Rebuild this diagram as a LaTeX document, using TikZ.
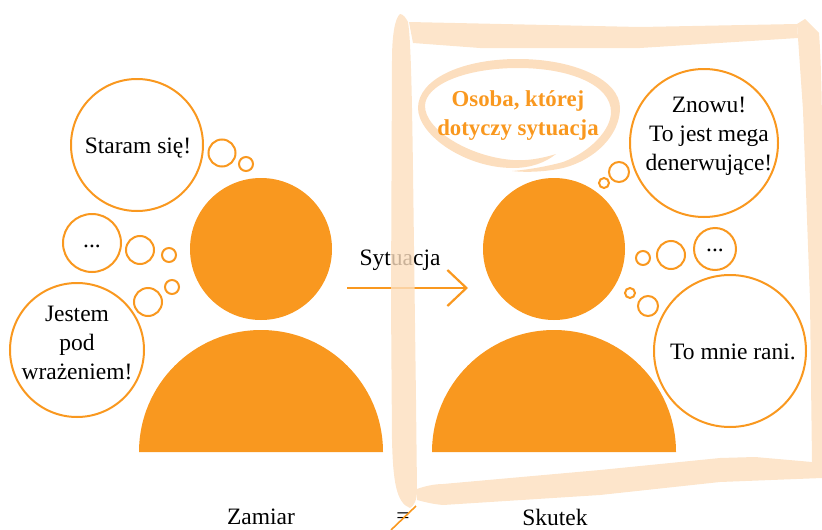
\documentclass[tikz,border=0pt]{standalone}
\usepackage{fontspec}
\setmainfont{Liberation Serif}
\usetikzlibrary{arrows.meta}
\definecolor{personorange}{HTML}{F9981F}
\definecolor{bandpeach}{rgb}{0.99,0.872,0.745}
\tikzset{
  bubble/.style={circle, draw=personorange, line width=2pt, fill=none, inner sep=0pt},
  thought/.style={align=center, inner sep=0pt, font=\fontsize{23.5}{29}\selectfont},
  band/.style={fill=bandpeach, draw=none},
  head/.style={circle, fill=personorange, inner sep=0pt, minimum size=142pt},
  caption/.style={font=\fontsize{23.5}{29}\selectfont, inner sep=0pt}
}

\begin{document}
\begin{tikzpicture}[x=1pt, y=-1pt]
      \useasboundingbox (0,0) rectangle (822,530);

      % left person
      \node[head] (headL) at (261,249) {};
      \fill[personorange] (139,452) arc[start angle=180, end angle=360, radius=122] -- cycle;

      \node[bubble, minimum size=132pt] (tryL) at (137,145) {};
      \node[thought] (tryText) at (138,148) {Staram się!};
      \node[bubble, minimum size=27pt] (tryA) at (222,153) {};
      \node[bubble, minimum size=14pt] (tryB) at (246,164) {};

      \node[bubble, minimum size=58pt] (dotsL) at (92,243) {};
      \node[thought] (dotsLText) at (92,246) {...};
      \node[bubble, minimum size=28pt] (dotsA) at (140,250) {};
      \node[bubble, minimum size=14pt] (dotsB) at (169,255) {};

      \node[bubble, minimum size=134pt] (wowL) at (77,350) {};
      \node[thought] (wowText) at (77,343) {Jestem\\pod\\wrażeniem!};
      \node[bubble, minimum size=28pt] (wowA) at (148,302) {};
      \node[bubble, minimum size=14pt] (wowB) at (172,287) {};

      % right person
      \node[head] (headR) at (554,249) {};
      \fill[personorange] (432,452) arc[start angle=180, end angle=360, radius=122] -- cycle;

      \node[bubble, minimum size=148pt] (againR) at (704,143) {};
      \node[thought] (againText) at (709,136) {Znowu!\\To jest mega\\denerwujące!};
      \node[bubble, minimum size=20pt] (againA) at (619,172) {};
      \node[bubble, minimum size=10pt] (againB) at (604,183) {};

      \node[bubble, minimum size=42pt] (dotsR) at (715,249) {};
      \node[thought] (dotsRText) at (715,250) {...};
      \node[bubble, minimum size=28pt] (dotsC) at (671,255) {};
      \node[bubble, minimum size=14pt] (dotsD) at (643,258) {};

      \node[bubble, minimum size=152pt] (hurtR) at (730,351) {};
      \node[thought] (hurtText) at (733,352) {To mnie rani.};
      \node[bubble, minimum size=20pt] (hurtA) at (648,306) {};
      \node[bubble, minimum size=10pt] (hurtB) at (630,293) {};

      % situation arrow
      \coordinate (arrowS) at (347,288);
      \coordinate (arrowE) at (468,288);
      \node[caption] (situation) at (400,260) {Sytuacja};
      \draw[personorange, line width=2.2pt, -{Straight Barb[length=19pt, width=36pt]}] (arrowS) -- (arrowE);

      % brush frame
      \begin{scope}[transparency group, opacity=0.8]
      \fill[band] (400,14) .. controls (395,18) and (392,35) .. (392,60) -- (391,300) -- (392,440)
        .. controls (393,480) and (396,503) .. (410,508)
        .. controls (414,506) and (417,500) .. (417,490) -- (416,400) -- (413,170)
        .. controls (412,100) and (411,40) .. (408,22) .. controls (406,18) and (403,14) .. (400,14) -- cycle;
      \fill[band] (409,22) -- (640,27) -- (797,24) -- (798,38) -- (640,48) -- (480,48) -- (413,43) -- cycle;
      \fill[band] (797,24) -- (805,19) -- (819,33) .. controls (821,60) and (822,100) .. (822,140)
        -- (822,478) -- (812,462) -- (810,300) -- (803,110) -- (798,38) -- cycle;
      \fill[band] (417,489) .. controls (425,486) and (435,484) .. (443,484) -- (600,470) -- (720,458) -- (755,457) -- (812,462) -- (822,466)
        -- (822,478) -- (720,482) -- (600,495) -- (443,505) .. controls (432,504) and (425,502) .. (417,500) -- cycle;
      \end{scope}

      % swoosh round the title
      \fill[band] (556,154) .. controls (540,159) and (525,161) .. (513,160)
        .. controls (470,157) and (425,130) .. (425,106)
        .. controls (425,85) and (465,68) .. (518,68)
        .. controls (570,68) and (611,85) .. (611,112)
        .. controls (611,130) and (590,152) .. (563,162)
        .. controls (545,167) and (525,170) .. (512,171)
        .. controls (530,173) and (550,171) .. (563,168)
        .. controls (595,160) and (620,135) .. (620,108)
        .. controls (620,80) and (575,59) .. (518,59)
        .. controls (460,59) and (418,80) .. (418,108)
        .. controls (418,135) and (465,168) .. (513,168)
        .. controls (530,168) and (545,163) .. (556,154) -- cycle;
      \node[align=center, text=personorange, font=\fontsize{22.8}{29}\selectfont\bfseries, inner sep=0pt] (title) at (518,116) {Osoba, której\\dotyczy sytuacja};

      % bottom line
      \node[caption] (intent) at (261,517) {Zamiar};
      \node[caption] (notEqual) at (403,518) {=};
      \node[caption] (effect) at (555,517) {Skutek};
      \coordinate (slashA) at (416,506);
      \coordinate (slashB) at (391,530);
      \draw[personorange, line width=1.6pt] (slashA) -- (slashB);
    \end{tikzpicture}
\end{document}
